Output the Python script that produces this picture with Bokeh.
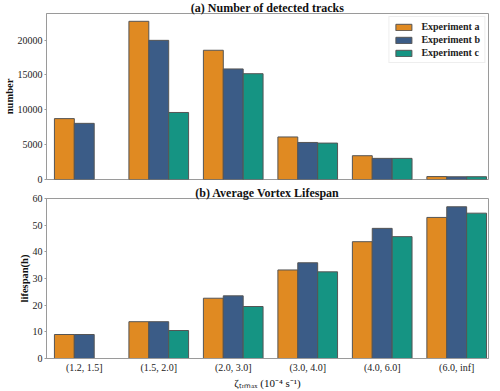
import math
from bokeh.plotting import figure
from bokeh.models import Range1d, FixedTicker, ColumnDataSource
from bokeh.layouts import column
from bokeh.embed import file_html
from bokeh.resources import INLINE

NAN = float("nan")

categories = ["(1.2, 1.5]", "(1.5, 2.0]", "(2.0, 3.0]", "(3.0, 4.0]", "(4.0, 6.0]", "(6.0, inf]"]
series_names = ["Experiment a", "Experiment b", "Experiment c"]
number_a = [8730, 22680, 18530, 6100, 3410, 420]
number_b = [8050, 19950, 15850, 5310, 3030, 390]
number_c = [NAN, 9610, 15170, 5220, 3030, 400]
life_a = [9.0, 13.8, 22.6, 33.2, 43.8, 52.9]
life_b = [9.0, 13.8, 23.5, 35.9, 48.8, 56.9]
life_c = [NAN, 10.5, 19.5, 32.5, 45.7, 54.5]
number_ticks = [0, 5000, 10000, 15000, 20000]
life_ticks = [0, 10, 20, 30, 40, 50, 60]

COLORS = ["#E08A22", "#3B5C87", "#159483"]
FONT = "Liberation Serif"
SPINE = "#9a9a9a"
BAR_W = 0.267
OFFSETS = [-BAR_W, 0.0, BAR_W]
X0, X1 = -0.507, 5.427


def make_fig(height, border_bottom, ymax, yticks, ylabel, title):
    p = figure(width=492, height=height, output_backend="svg", toolbar_location=None,
               x_range=Range1d(X0, X1), y_range=Range1d(0, ymax),
               min_border_left=43, min_border_right=4,
               min_border_top=0, min_border_bottom=border_bottom)
    p.title.text = title
    p.title.align = "center"
    p.title.text_font = FONT
    p.title.text_font_style = "bold"
    p.title.text_font_size = "12px"
    p.title.text_color = "#111111"
    p.title.standoff = -3
    p.background_fill_color = "white"
    p.border_fill_color = "white"
    p.outline_line_color = SPINE
    p.outline_line_width = 1
    p.xgrid.visible = False
    p.ygrid.visible = False
    p.yaxis.ticker = FixedTicker(ticks=yticks)
    p.yaxis.minor_tick_line_color = None
    p.yaxis.major_tick_in = 0
    p.yaxis.major_tick_out = 2
    p.yaxis.major_tick_line_color = SPINE
    p.yaxis.axis_line_color = SPINE
    p.yaxis.major_label_text_font = FONT
    p.yaxis.major_label_text_font_size = "10px"
    p.yaxis.major_label_text_color = "#222222"
    p.yaxis.major_label_standoff = 2
    p.yaxis.axis_label = ylabel
    p.yaxis.axis_label_text_font = FONT
    p.yaxis.axis_label_text_font_style = "bold"
    p.yaxis.axis_label_text_font_size = "10.5px"
    p.yaxis.axis_label_text_color = "#111111"
    p.yaxis.axis_label_standoff = 0
    return p


def add_bars(p, series, legend):
    for k, vals in enumerate(series):
        src = ColumnDataSource(dict(x=[i + OFFSETS[k] for i in range(len(categories))], top=vals))
        kw = dict(legend_label=series_names[k]) if legend else {}
        p.vbar(x="x", top="top", width=BAR_W, bottom=0, source=src,
               fill_color=COLORS[k], line_color="#555555", line_width=1, **kw)


top = make_fig(185, 6, 23800, number_ticks, "number", "(a) Number of detected tracks")
add_bars(top, [number_a, number_b, number_c], True)
top.xaxis.visible = False
lg = top.legend[0]
lg.location = "top_right"
lg.label_text_font = FONT
lg.label_text_font_style = "bold"
lg.label_text_font_size = "10px"
lg.label_text_color = "#222222"
lg.border_line_color = "#dddddd"
lg.glyph_width = 20
lg.glyph_height = 8
lg.label_height = 10
lg.spacing = 2
lg.padding = 4
lg.margin = 3
lg.label_standoff = 8

bottom = make_fig(206, 0, 60, life_ticks, "lifespan(h)", "(b) Average Vortex Lifespan")
add_bars(bottom, [life_a, life_b, life_c], False)
bottom.xaxis.ticker = FixedTicker(ticks=list(range(len(categories))))
bottom.xaxis.major_label_overrides = {i: c for i, c in enumerate(categories)}
bottom.xaxis.minor_tick_line_color = None
bottom.xaxis.major_tick_line_color = None
bottom.xaxis.major_tick_in = 0
bottom.xaxis.major_tick_out = 0
bottom.xaxis.axis_line_color = SPINE
bottom.xaxis.major_label_text_font = FONT
bottom.xaxis.major_label_text_font_size = "10px"
bottom.xaxis.major_label_text_color = "#222222"
bottom.xaxis.major_label_standoff = 3
bottom.xaxis.axis_label = "ζₜᵣₘₐₓ (10⁻⁴ s⁻¹)"
bottom.xaxis.axis_label_text_font = FONT
bottom.xaxis.axis_label_text_font_style = "normal"
bottom.xaxis.axis_label_text_font_size = "11px"
bottom.xaxis.axis_label_text_color = "#111111"
bottom.xaxis.axis_label_standoff = 1

layout = column(top, bottom, spacing=0)
open("out.html", "w").write(file_html(layout, INLINE))
